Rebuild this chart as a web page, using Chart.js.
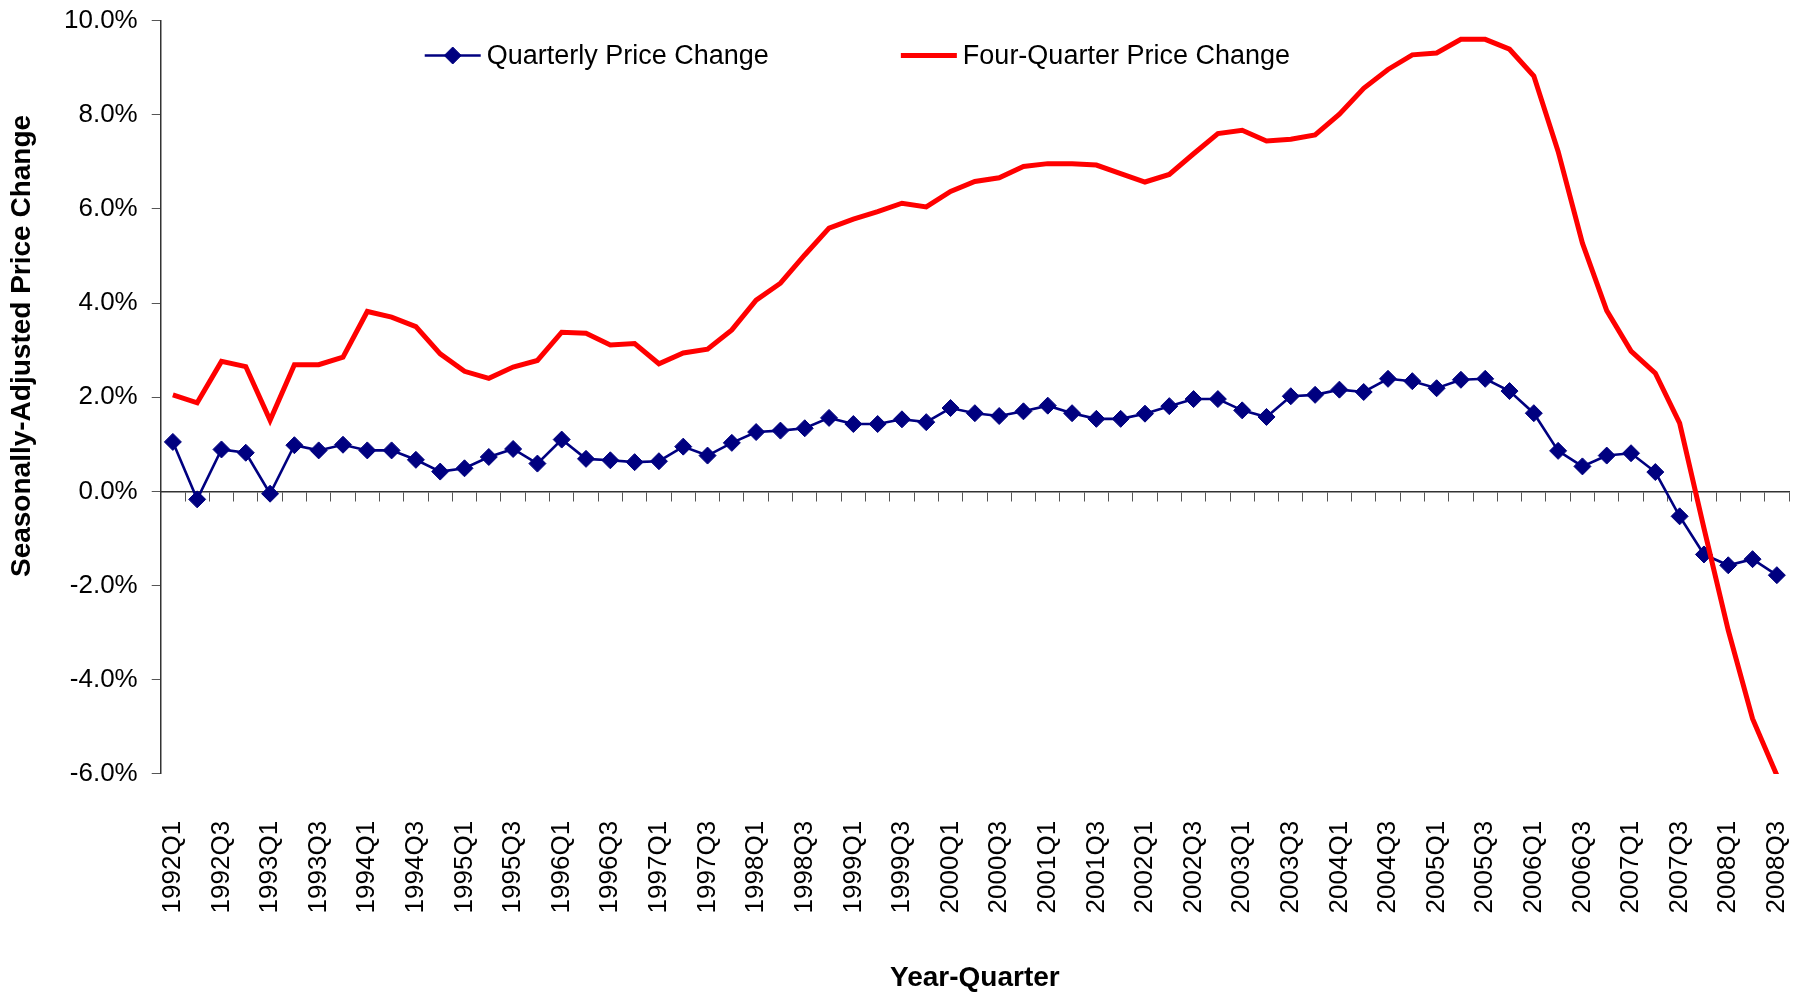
<!DOCTYPE html>
<html>
<head>
<meta charset="utf-8">
<title>House Price Change</title>
<script src="https://cdn.jsdelivr.net/npm/chart.js@4.4.0/dist/chart.umd.min.js"></script>
<style>
  html, body { margin: 0; padding: 0; background: #fff; }
</style>
</head>
<body>
<canvas id="priceChart" width="1808" height="995"></canvas>
<script>
const quarters = [
    '1992Q1', '1992Q2', '1992Q3', '1992Q4',
    '1993Q1', '1993Q2', '1993Q3', '1993Q4',
    '1994Q1', '1994Q2', '1994Q3', '1994Q4',
    '1995Q1', '1995Q2', '1995Q3', '1995Q4',
    '1996Q1', '1996Q2', '1996Q3', '1996Q4',
    '1997Q1', '1997Q2', '1997Q3', '1997Q4',
    '1998Q1', '1998Q2', '1998Q3', '1998Q4',
    '1999Q1', '1999Q2', '1999Q3', '1999Q4',
    '2000Q1', '2000Q2', '2000Q3', '2000Q4',
    '2001Q1', '2001Q2', '2001Q3', '2001Q4',
    '2002Q1', '2002Q2', '2002Q3', '2002Q4',
    '2003Q1', '2003Q2', '2003Q3', '2003Q4',
    '2004Q1', '2004Q2', '2004Q3', '2004Q4',
    '2005Q1', '2005Q2', '2005Q3', '2005Q4',
    '2006Q1', '2006Q2', '2006Q3', '2006Q4',
    '2007Q1', '2007Q2', '2007Q3', '2007Q4',
    '2008Q1', '2008Q2', '2008Q3'
];

// percent, seasonally adjusted
const quarterlyChange = [
    1.05, -0.17, 0.89, 0.82,
    -0.05, 0.98, 0.87, 0.99,
    0.87, 0.87, 0.67, 0.42,
    0.49, 0.73, 0.90, 0.59,
    1.10, 0.69, 0.66, 0.62,
    0.64, 0.95, 0.76, 1.03,
    1.26, 1.29, 1.34, 1.56,
    1.43, 1.43, 1.53, 1.47,
    1.77, 1.66, 1.60, 1.70,
    1.82, 1.66, 1.54, 1.54,
    1.65, 1.81, 1.96, 1.96,
    1.72, 1.58, 2.02, 2.05,
    2.16, 2.11, 2.39, 2.34,
    2.19, 2.37, 2.39, 2.13,
    1.66, 0.86, 0.53, 0.76,
    0.81, 0.41, -0.53, -1.34,
    -1.57, -1.44, -1.78
];

const fourQuarterChange = [
    2.05, 1.88, 2.76, 2.65,
    1.51, 2.69, 2.69, 2.85,
    3.82, 3.70, 3.50, 2.92,
    2.55, 2.40, 2.64, 2.78,
    3.38, 3.36, 3.11, 3.14,
    2.71, 2.94, 3.02, 3.43,
    4.06, 4.42, 5.02, 5.59,
    5.78, 5.94, 6.12, 6.04,
    6.37, 6.58, 6.66, 6.90,
    6.96, 6.96, 6.93, 6.75,
    6.57, 6.73, 7.17, 7.60,
    7.67, 7.44, 7.48, 7.57,
    8.01, 8.56, 8.96, 9.27,
    9.31, 9.60, 9.60, 9.39,
    8.82, 7.22, 5.27, 3.84,
    2.98, 2.51, 1.45, -0.78,
    -2.95, -4.83, -6.03
];

// only every other quarter gets a label on the axis
const shownQuarters = quarters.filter((q, i) => i % 2 === 0);

const yTitle = 'Seasonally-Adjusted Price Change';
const xTitle = 'Year-Quarter';

const FONT = '"Liberation Sans", Arial, sans-serif';
Chart.defaults.font.family = FONT;
Chart.defaults.color = '#000';

// legend sits inside the plot, like the spreadsheet one
const insideLegend = {
    id: 'insideLegend',
    afterDraw(chart) {
        const { ctx, chartArea } = chart;
        const y = chartArea.top + 35;
        let x = chartArea.left + 264;
        ctx.save();
        ctx.font = '27px ' + FONT;
        ctx.textBaseline = 'middle';
        ctx.textAlign = 'left';
        chart.data.datasets.forEach(ds => {
            ctx.strokeStyle = ds.borderColor;
            ctx.lineWidth = ds.borderWidth;
            ctx.beginPath();
            ctx.moveTo(x, y);
            ctx.lineTo(x + 56, y);
            ctx.stroke();
            if (ds.pointRadius > 0) {
                ctx.fillStyle = ds.backgroundColor;
                ctx.lineWidth = ds.pointBorderWidth;
                Chart.helpers.drawPoint(ctx, {
                    pointStyle: ds.pointStyle,
                    radius: ds.pointRadius,
                    borderWidth: ds.pointBorderWidth,
                    rotation: 0
                }, x + 28, y);
            }
            ctx.fillStyle = '#000';
            ctx.fillText(ds.label, x + 62, y + 1);
            x += 62 + ctx.measureText(ds.label).width + 132;
        });
        ctx.restore();
    }
};

// y title sits a bit above the middle of the plot, so it is drawn here
const sideTitle = {
    id: 'sideTitle',
    afterDraw(chart) {
        const { ctx, chartArea } = chart;
        const cx = chartArea.left - 138;
        const cy = chartArea.top + 0.432 * (chartArea.bottom - chartArea.top);
        ctx.save();
        ctx.translate(cx, cy);
        ctx.rotate(-Math.PI / 2);
        ctx.font = 'bold 28px ' + FONT;
        ctx.fillStyle = '#000';
        ctx.textAlign = 'center';
        ctx.textBaseline = 'middle';
        ctx.fillText(yTitle, 0, 0);
        ctx.restore();
    }
};

const data = {
    labels: quarters,
    datasets: [{
        label: 'Quarterly Price Change',
        data: quarterlyChange,
        borderColor: '#000080',
        backgroundColor: '#000080',
        borderWidth: 2.6,
        pointStyle: 'rectRot',
        pointRadius: 8.5,
        pointBorderWidth: 1,
        pointHoverRadius: 8.5,
        tension: 0,
        order: 1
    }, {
        label: 'Four-Quarter Price Change',
        data: fourQuarterChange,
        borderColor: '#FF0000',
        backgroundColor: '#FF0000',
        borderWidth: 5,
        pointRadius: 0,
        pointHoverRadius: 0,
        tension: 0,
        order: 0
    }]
};

const config = {
    type: 'line',
    data: data,
    options: {
        responsive: false,
        animation: false,
        layout: { padding: { left: 50, top: 20, right: 19, bottom: 0 } },
        plugins: {
            legend: { display: false },
            tooltip: { enabled: false }
        },
        scales: {
            x: {
                type: 'category',
                offset: true,
                // invisible tick marks keep the labels well below the plot
                grid: { display: false, drawTicks: true, tickLength: 43 },
                border: { display: false },
                ticks: {
                    autoSkip: false,
                    minRotation: 90,
                    maxRotation: 90,
                    padding: 4,
                    font: { size: 26, lineHeight: 1 },
                    color: '#000',
                    callback: function (value, index) {
                        return index % 2 === 0 ? shownQuarters[index / 2] : '';
                    }
                },
                title: {
                    display: true,
                    text: xTitle,
                    font: { size: 28, weight: 'bold' },
                    color: '#000',
                    padding: { top: 44, bottom: 0 }
                }
            },
            // zero line with its small tick marks
            xZero: {
                axis: 'x',
                type: 'category',
                labels: quarters,
                offset: true,
                position: { y: 0 },
                grid: { drawOnChartArea: false, drawTicks: true, tickLength: 9, color: '#555', offset: true },
                border: { display: true, color: '#333', width: 1.5 },
                ticks: { display: false, autoSkip: false }
            },
            y: {
                min: -6,
                max: 10,
                grid: { drawOnChartArea: false, drawTicks: true, tickLength: 9, color: '#555' },
                border: { display: true, color: '#333', width: 1.5 },
                ticks: {
                    stepSize: 2,
                    padding: 14,
                    font: { size: 26, lineHeight: 0.5 },
                    color: '#000',
                    callback: v => v.toFixed(1) + '%'
                }
            }
        }
    },
    plugins: [insideLegend, sideTitle]
};

const priceChart = new Chart(
    document.getElementById('priceChart'),
    config
);
</script>
</body>
</html>
